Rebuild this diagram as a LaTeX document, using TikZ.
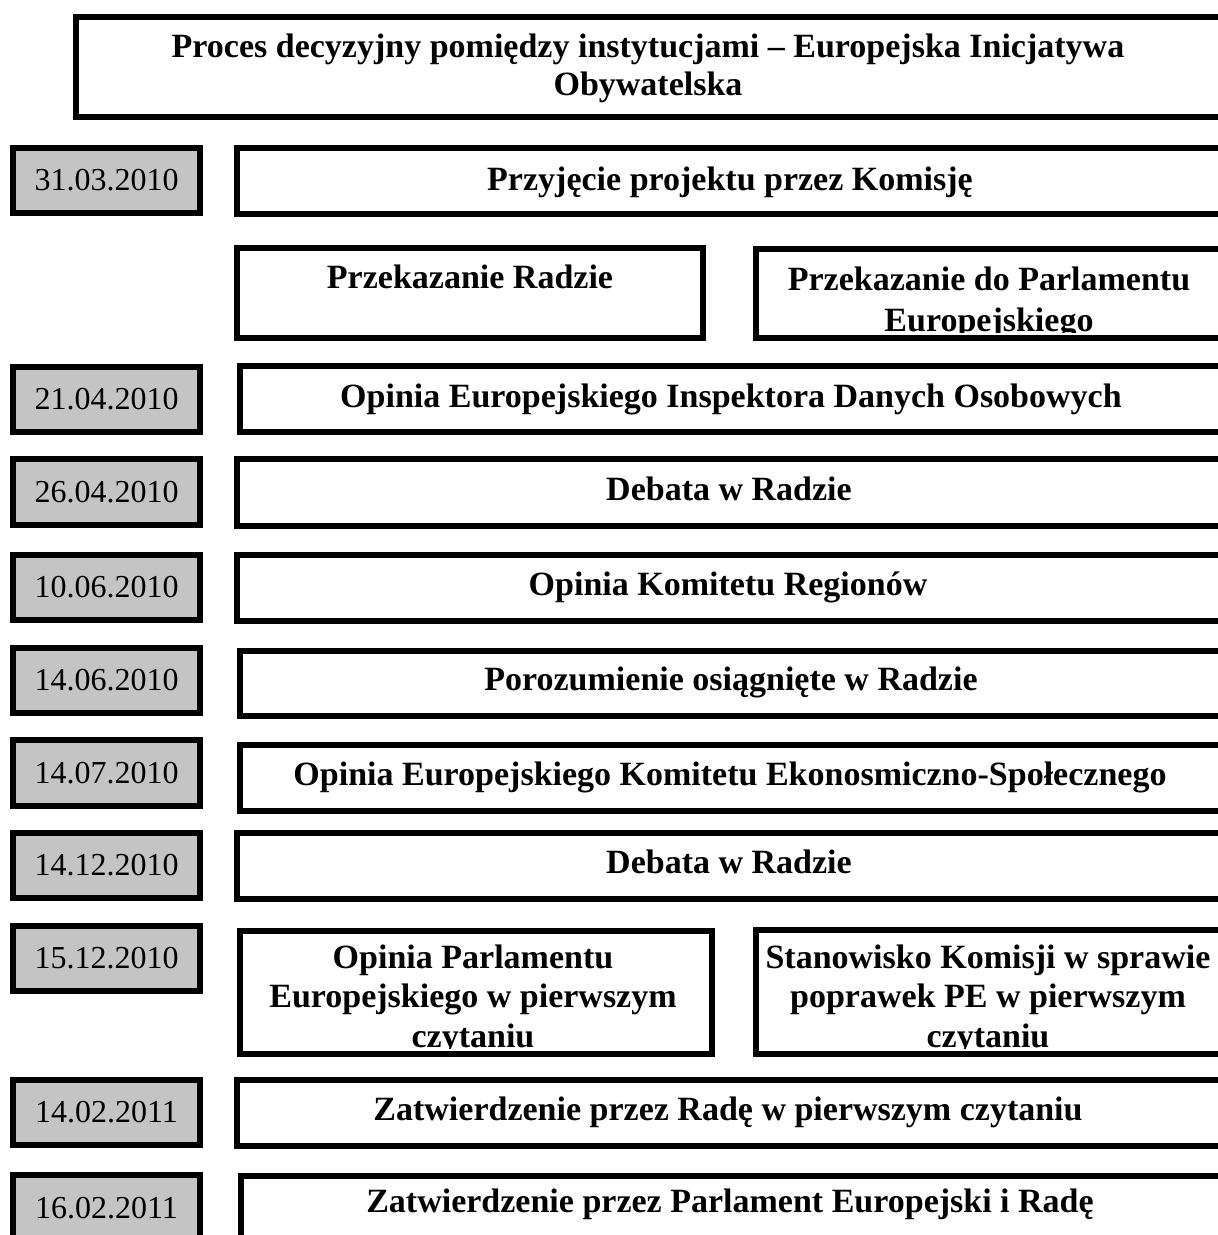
\documentclass[tikz,border=0pt]{standalone}
\usepackage{fontspec}
\setmainfont{Liberation Serif}
\definecolor{dategray}{RGB}{196,196,196}
\begin{document}
\begin{tikzpicture}[x=1pt,y=-1pt,
  frame/.style={draw=black,line width=6pt,inner sep=0pt,anchor=north west},
  datebox/.style={frame,fill=dategray,font=\fontsize{32}{36}\selectfont},
  lbl/.style={font=\bfseries\fontsize{34}{38}\selectfont,inner sep=0pt,anchor=base}]
\useasboundingbox (0,0) rectangle (1218,1235);
\clip (0,0) rectangle (1218,1235);
% title
\node[frame,minimum width=1154pt,minimum height=100pt] (title) at (73,14) {};
\node[lbl] (title1) at (648,57) {Proces decyzyjny pomiędzy instytucjami – Europejska Inicjatywa};
\node[lbl] (title2) at (648,95) {Obywatelska};
% dates
\node[datebox,minimum width=187pt,minimum height=65pt] (d1) at (10,145) {31.03.2010};
\node[datebox,minimum width=187pt,minimum height=65pt] (d3) at (10,364) {21.04.2010};
\node[datebox,minimum width=187pt,minimum height=66pt] (d4) at (10,456) {26.04.2010};
\node[datebox,minimum width=187pt,minimum height=65pt] (d5) at (10,552) {10.06.2010};
\node[datebox,minimum width=187pt,minimum height=65pt] (d6) at (10,645) {14.06.2010};
\node[datebox,minimum width=187pt,minimum height=66pt] (d7) at (10,737) {14.07.2010};
\node[datebox,minimum width=187pt,minimum height=65pt] (d8) at (10,830) {14.12.2010};
\node[datebox,minimum width=187pt,minimum height=65pt] (d9) at (10,923) {15.12.2010};
\node[datebox,minimum width=187pt,minimum height=65pt] (d10) at (10,1077) {14.02.2011};
\node[datebox,minimum width=187pt,minimum height=66pt] (d11) at (10,1172) {16.02.2011};
% main boxes
\node[frame,minimum width=993pt,minimum height=66pt] (m1) at (234,145) {};
\node[lbl] (t1) at (730,190) {Przyjęcie projektu przez Komisję};
\node[frame,minimum width=466pt,minimum height=90pt] (m2a) at (234,245) {};
\node[lbl] (t2a) at (470,288) {Przekazanie Radzie};
\begin{scope}
\clip (756,249) rectangle (1230,332);
\node[lbl] (t2b1) at (989,290) {Przekazanie do Parlamentu};
\node[lbl] (t2b2) at (989,331) {Europejskiego};
\end{scope}
\node[frame,minimum width=474pt,minimum height=89pt] (m2b) at (753,246) {};
\node[frame,minimum width=990pt,minimum height=66pt] (m3) at (237,363) {};
\node[lbl] (t3) at (731,407) {Opinia Europejskiego Inspektora Danych Osobowych};
\node[frame,minimum width=993pt,minimum height=67pt] (m4) at (234,456) {};
\node[lbl] (t4) at (729,500) {Debata w Radzie};
\node[frame,minimum width=993pt,minimum height=66pt] (m5) at (234,552) {};
\node[lbl] (t5) at (728,595) {Opinia Komitetu Regionów};
\node[frame,minimum width=990pt,minimum height=65pt] (m6) at (237,648) {};
\node[lbl] (t6) at (731,690) {Porozumienie osiągnięte w Radzie};
\node[frame,minimum width=990pt,minimum height=66pt] (m7) at (237,742) {};
\node[lbl] (t7) at (730,785) {Opinia Europejskiego Komitetu Ekonosmiczno-Społecznego};
\node[frame,minimum width=993pt,minimum height=66pt] (m8) at (234,830) {};
\node[lbl] (t8) at (729,873) {Debata w Radzie};
\begin{scope}
\clip (240,931) rectangle (706,1048);
\node[lbl] (t9a1) at (473,968) {Opinia Parlamentu};
\node[lbl] (t9a2) at (473,1007) {Europejskiego w pierwszym};
\node[lbl] (t9a3) at (473,1047) {czytaniu};
\end{scope}
\node[frame,minimum width=472pt,minimum height=123pt] (m9a) at (237,928) {};
\begin{scope}
\clip (756,930) rectangle (1230,1048);
\node[lbl] (t9b1) at (988,968) {Stanowisko Komisji w sprawie};
\node[lbl] (t9b2) at (988,1007) {poprawek PE w pierwszym};
\node[lbl] (t9b3) at (988,1047) {czytaniu};
\end{scope}
\node[frame,minimum width=474pt,minimum height=124pt] (m9b) at (753,927) {};
\node[frame,minimum width=993pt,minimum height=66pt] (m10) at (234,1077) {};
\node[lbl] (t10) at (728,1120) {Zatwierdzenie przez Radę w pierwszym czytaniu};
\node[frame,minimum width=989pt,minimum height=70pt] (m11) at (238,1173) {};
\node[lbl] (t11) at (730,1212) {Zatwierdzenie przez Parlament Europejski i Radę};
\end{tikzpicture}
\end{document}
